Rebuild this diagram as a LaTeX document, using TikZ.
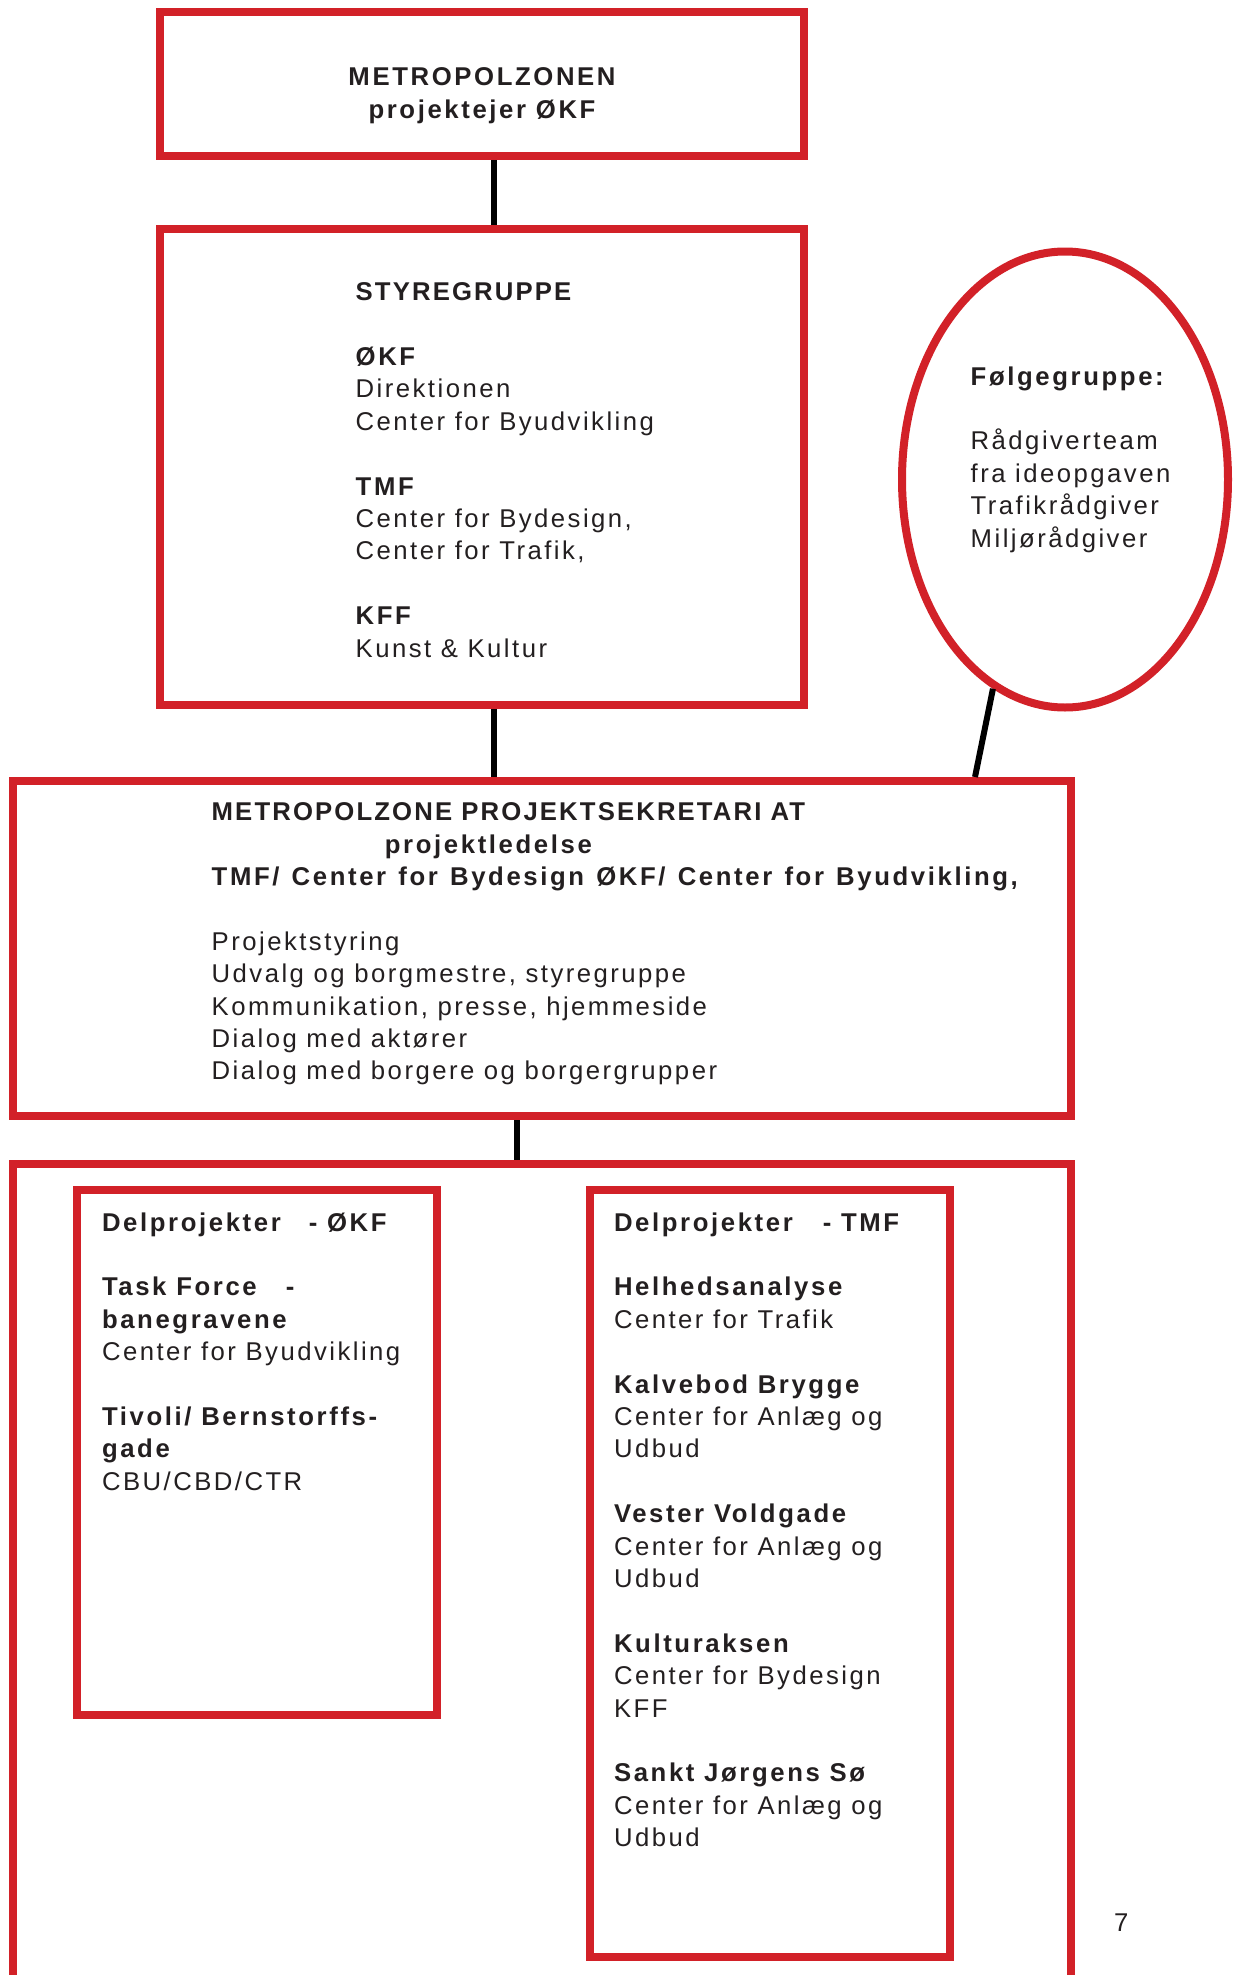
\documentclass[tikz,border=0pt]{standalone}
\usepackage{fontspec}
\setmainfont{Liberation Sans}[LetterSpace=9.6, BoldFeatures={LetterSpace=10.2}]
\newfontfamily\capsbold{Liberation Sans}[LetterSpace=8.3]
\usetikzlibrary{shapes.geometric,fit}
\definecolor{boxred}{RGB}{210,33,40}
\definecolor{ink}{RGB}{35,31,32}
\newcommand{\txtsize}{\fontsize{12.85pt}{16.2pt}\selectfont}
\begin{document}
\begin{tikzpicture}[x=0.5pt,y=-0.5pt,
  redbox/.style={draw=boxred, line width=4pt, inner sep=0pt},
  link/.style={draw=black, line width=3pt},
  txt/.style={anchor=base west, inner sep=0pt, outer sep=0pt, text=ink, font=\txtsize},
]
\useasboundingbox[fill=white] (0,0) rectangle (1234,1975);

% boxes
\node[redbox, fit={(160,12.3) (804,156)}] (b1) {};
\node[redbox, fit={(160,229) (804,705)}] (b2) {};
\node[redbox, ellipse, minimum width=163pt, minimum height=228pt] (fg) at (1065,479.5) {};
\node[redbox, fit={(13,781) (1071,1116)}] (b3) {};
\node[redbox, fit={(13,1164) (1071,2010)}] (b4) {};
\node[redbox, fit={(77,1189.5) (437,1715)}] (okf) {};
\node[redbox, fit={(590,1190) (950,1956.5)}] (tmf) {};

% connectors
\coordinate (cx1) at (494,0);
\coordinate (cx2) at (517,0);
\coordinate (cfg) at (975,0);
\draw[link] (b1.south -| cx1) -- (b2.north -| cx1);
\draw[link] (b2.south -| cx1) -- (b3.north -| cx1);
\draw[link] (b3.south -| cx2) -- (b4.north -| cx2);
\draw[link] (fg.251.8) -- (b3.north -| cfg);

% texts
\node[txt, anchor=base, font=\txtsize\bfseries] (t1) at (482,85.7)
  {\begin{tabular}[t]{@{}c@{}}METROPOLZONEN\\projektejer ØKF\end{tabular}};

\node[txt] (t2) at (355.7,300.7)
  {\begin{tabular}[t]{@{}l@{}}
   \capsbold\bfseries STYREGRUPPE\\
   \\
   \bfseries ØKF\\
   Direktionen\\
   Center for Byudvikling\\
   \\
   \bfseries TMF\\
   Center for Bydesign,\\
   Center for Trafik,\\
   \\
   \bfseries KFF\\
   Kunst \& Kultur
  \end{tabular}};

\node[txt] (t3) at (970.7,385)
  {\begin{tabular}[t]{@{}l@{}}
   \bfseries Følgegruppe:\\
   \\
   Rådgiverteam\\
   fra ideopgaven\\
   Trafikrådgiver\\
   Miljørådgiver
  \end{tabular}};

\node[txt] (t4) at (211.7,820.7)
  {\begin{tabular}[t]{@{}l@{}}
   \capsbold\bfseries METROPOLZONE PROJEKTSEKRETARI AT\\
   \hspace*{86.6pt}\bfseries projektledelse\\
   \bfseries\spaceskip=6.1pt plus 1pt\relax TMF/ Center for Bydesign ØKF/ Center for Byudvikling,\\
   \\
   Projektstyring\\
   Udvalg og borgmestre, styregruppe\\
   Kommunikation, presse, hjemmeside\\
   Dialog med aktører\\
   Dialog med borgere og borgergrupper
  \end{tabular}};

\node[txt] (t5) at (102,1231)
  {\begin{tabular}[t]{@{}l@{}}
   \bfseries Delprojekter\hspace{14pt}- ØKF\\
   \\
   \bfseries Task Force\hspace{14.5pt}-\\
   \bfseries banegravene\\
   Center for Byudvikling\\
   \\
   \bfseries Tivoli/ Bernstorffs-\\
   \bfseries gade\\
   CBU/CBD/CTR
  \end{tabular}};

\node[txt] (t6) at (614,1231)
  {\begin{tabular}[t]{@{}l@{}}
   \bfseries Delprojekter\hspace{15pt}- TMF\\
   \\
   \bfseries Helhedsanalyse\\
   Center for Trafik\\
   \\
   \bfseries Kalvebod Brygge\\
   Center for Anlæg og\\
   Udbud\\
   \\
   \bfseries Vester Voldgade\\
   Center for Anlæg og\\
   Udbud\\
   \\
   \bfseries Kulturaksen\\
   Center for Bydesign\\
   KFF\\
   \\
   \bfseries Sankt Jørgens Sø\\
   Center for Anlæg og\\
   Udbud
  \end{tabular}};

\node[txt] (pg) at (1114,1931.7) {7};
\end{tikzpicture}
\end{document}
